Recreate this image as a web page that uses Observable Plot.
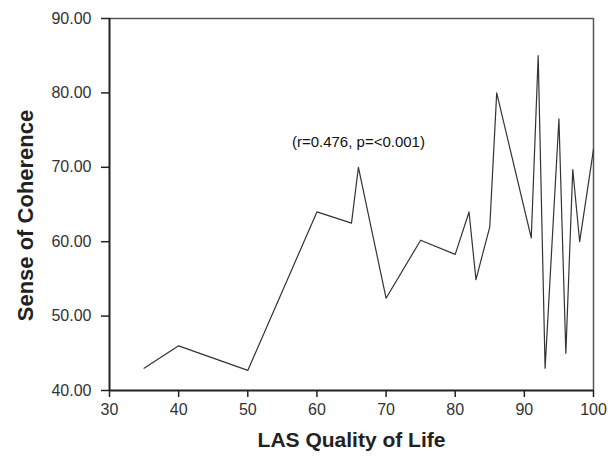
<!DOCTYPE html>
<html>
<head>
<meta charset="utf-8">
<script src="https://cdn.jsdelivr.net/npm/d3@7"></script>
<script src="https://cdn.jsdelivr.net/npm/@observablehq/plot@0.6"></script>
<style>
  html, body { margin: 0; padding: 0; background: #fff; }
</style>
</head>
<body>
<div id="chart"></div>
<script>
const qualityOfLife = [35, 40, 50, 60, 65, 66, 70, 75, 80, 82, 83, 85, 86, 91, 92, 93, 95, 96, 97, 98, 100];
const senseOfCoherence = [43.0, 46.0, 42.7, 64.0, 62.5, 70.0, 52.4, 60.2, 58.3, 64.0, 54.9, 62.0, 80.0, 60.5, 85.0, 43.0, 76.5, 45.0, 69.7, 60.0, 72.4];
const xTicks = [30, 40, 50, 60, 70, 80, 90, 100];
const yTicks = [40, 50, 60, 70, 80, 90];
const annotation = [{x: 66, y: 73.4, label: "(r=0.476, p=<0.001)"}];
const xLabel = "LAS Quality of Life";
const yLabel = "Sense of Coherence";

const data = qualityOfLife.map((q, i) => ({q, s: senseOfCoherence[i]}));

const chart = Plot.plot({
  width: 614,
  height: 460,
  marginLeft: 109,
  marginRight: 21,
  marginTop: 18,
  marginBottom: 70,
  style: {fontFamily: "'Liberation Sans', Arial, sans-serif", background: "#fff"},
  x: {domain: [30, 100]},
  y: {domain: [40, 90]},
  marks: [
    Plot.ruleY([90], {stroke: "#555", strokeWidth: 1.5}),
    Plot.ruleX([100], {stroke: "#555", strokeWidth: 1.5}),
    Plot.line(data, {x: "q", y: "s", stroke: "#333", strokeWidth: 1.2}),
    Plot.text(annotation, {x: "x", y: "y", text: "label", fontSize: 15, fill: "#111"}),
    Plot.axisX({ticks: xTicks, tickSize: 7, tickPadding: 6, fontSize: 16, fill: "#333", stroke: "#222", strokeWidth: 1.5, label: null}),
    Plot.axisY({ticks: yTicks, tickSize: 8, tickPadding: 10, fontSize: 16, fill: "#333", stroke: "#222", strokeWidth: 1.5, tickFormat: d3.format(".2f"), label: null}),
    Plot.ruleX([30], {stroke: "#222", strokeWidth: 2}),
    Plot.ruleY([40], {stroke: "#222", strokeWidth: 2}),
    Plot.text([xLabel], {frameAnchor: "bottom", dy: 56, fontSize: 21, fontWeight: "bold", fill: "#222"}),
    Plot.text([yLabel], {frameAnchor: "left", textAnchor: "middle", rotate: -90, dx: -84, dy: 11, fontSize: 22, fontWeight: "bold", fill: "#222"})
  ]
});
document.getElementById("chart").appendChild(chart);
</script>
</body>
</html>
